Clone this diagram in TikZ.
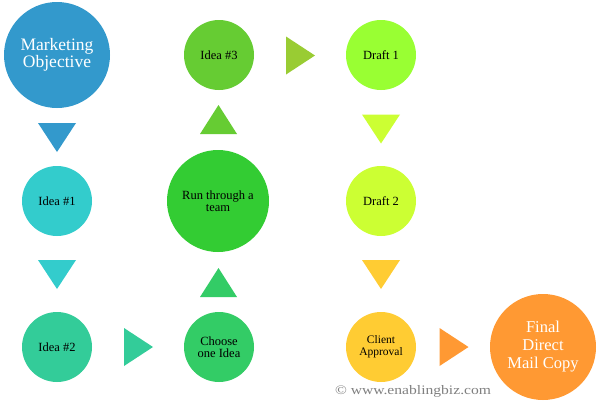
\documentclass[tikz,border=0pt]{standalone}
\usepackage{fontspec}
\setmainfont{Liberation Serif}
\definecolor{cA}{HTML}{3399CC}
\definecolor{cB}{HTML}{33CCCC}
\definecolor{cC}{HTML}{33CC99}
\definecolor{cD}{HTML}{33CC66}
\definecolor{cE}{HTML}{33CC33}
\definecolor{cF}{HTML}{66CC33}
\definecolor{cG}{HTML}{99CC33}
\definecolor{cH}{HTML}{99FF33}
\definecolor{cI}{HTML}{CCFF33}
\definecolor{cJ}{HTML}{FFCC33}
\definecolor{cK}{HTML}{FF9933}
\tikzset{
  bubble/.style={circle, inner sep=0pt, align=center, text=black,
    font=\fontsize{12.5}{12.5}\selectfont},
  small/.style={bubble, minimum size=70pt},
  big/.style={bubble, minimum size=106pt, text=white,
    font=\fontsize{17.5}{17.5}\selectfont},
  downtri/.pic={\fill[#1] (-19,-14.5) -- (19,-14.5) -- (0,14.5) -- cycle;},
  uptri/.pic={\fill[#1] (-18.5,14.5) -- (18.5,14.5) -- (0,-14.5) -- cycle;},
  righttri/.pic={\fill[#1] (-14.5,-19) -- (-14.5,19) -- (14.5,0) -- cycle;},
}
\begin{document}
\begin{tikzpicture}[x=1pt,y=-1pt]
\useasboundingbox (0,0) rectangle (600,402);
\fill[white] (0,0) rectangle (600,402);
% circles
\node[big, fill=cA] (mo) at (57,55) {Marketing\\Objective};
\node[small, fill=cB] (i1) at (57,201) {Idea \#1};
\node[small, fill=cC] (i2) at (57,347) {Idea \#2};
\node[small, fill=cD] (ch) at (219,347) {Choose\\one Idea};
\node[bubble, fill=cE, minimum size=102pt] (rt) at (218,201) {Run through a\\team};
\node[small, fill=cF] (i3) at (219,55) {Idea \#3};
\node[small, fill=cH] (d1) at (381,55) {Draft 1};
\node[small, fill=cI] (d2) at (381,201) {Draft 2};
\node[small, fill=cJ, font=\fontsize{11.5}{12}\selectfont] (ca) at (381,347) {Client\\Approval};
\node[big, fill=cK, font=\fontsize{16.5}{18}\selectfont] (fi) at (543,347) {Final\\Direct\\Mail Copy};
% triangles
\coordinate (t1) at (57,137.5);
\coordinate (t2) at (57,274.5);
\coordinate (t3) at (138.5,347);
\coordinate (t4) at (218.5,282.5);
\coordinate (t5) at (218.5,119.5);
\coordinate (t6) at (300.5,55.5);
\coordinate (t7) at (381,129);
\coordinate (t8) at (381,274.5);
\coordinate (t9) at (454,347);
\pic at (t1) {downtri=cA};
\pic at (t2) {downtri=cB};
\pic at (t3) {righttri=cC};
\pic at (t4) {uptri=cD};
\pic at (t5) {uptri=cF};
\pic at (t6) {righttri=cG};
\pic at (t7) {downtri=cI};
\pic at (t8) {downtri=cJ};
\pic at (t9) {righttri=cK};
% watermark
\node[text=black!50, inner sep=0pt, anchor=base] (wm) at (413,394)
  {\scalebox{1.2}[1]{\fontsize{13}{13}\selectfont © www.enablingbiz.com}};
\end{tikzpicture}
\end{document}
